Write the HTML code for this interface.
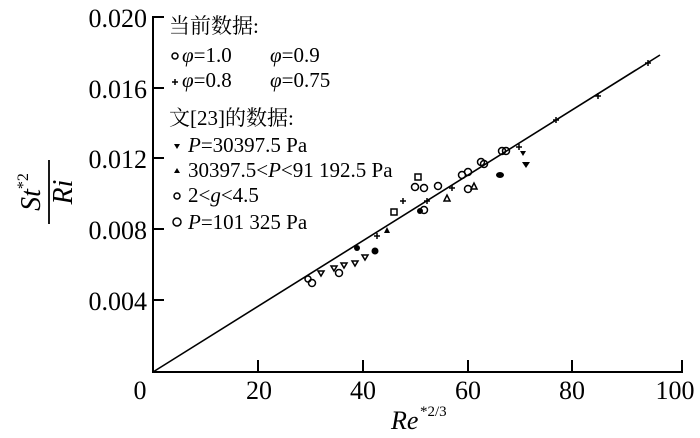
<!DOCTYPE html>
<html><head><meta charset="utf-8"><style>body{margin:0;background:#fff}svg{display:block}</style></head><body>
<svg width="700" height="438" xmlns="http://www.w3.org/2000/svg" font-family="'Liberation Serif','Noto Serif CJK SC',serif" fill="#000">
<g stroke="#000" stroke-width="2" fill="none">
<path d="M164 17H153V372H682V360"/>
<path d="M153 88H164M153 158H164M153 229H164M153 300H164"/>
<path d="M258 372V360M363 372V360M468 372V360M572 372V360"/>
</g>
<line x1="153" y1="372" x2="660" y2="55" stroke="#000" stroke-width="1.6"/>
<g font-size="26" text-anchor="end">
<text x="147" y="27">0.020</text><text x="147" y="98">0.016</text><text x="147" y="168">0.012</text><text x="147" y="239">0.008</text><text x="147" y="310">0.004</text>
</g>
<g font-size="26" text-anchor="middle">
<text x="140" y="399">0</text><text x="259" y="399">20</text><text x="363" y="399">40</text><text x="468" y="399">60</text><text x="572" y="399">80</text><text x="675" y="399">100</text>
</g>
<text x="391" y="429" font-size="26" font-style="italic">Re</text><text x="420" y="416" font-size="15">*2/3</text>
<g transform="translate(48,192) rotate(-90)" font-size="28" font-style="italic" text-anchor="middle">
<text x="0" y="-8">St<tspan font-size="16" font-style="normal" dy="-12">*2</tspan></text>
<line x1="-32" y1="1" x2="32" y2="1" stroke="#000" stroke-width="1.8"/>
<text x="0" y="24">Ri</text>
</g>
<g font-size="21">
<text x="169" y="33">当前数据:</text>
<text x="182" y="62"><tspan font-style="italic">φ</tspan>=1.0</text><text x="270" y="62"><tspan font-style="italic">φ</tspan>=0.9</text>
<text x="182" y="87"><tspan font-style="italic">φ</tspan>=0.8</text><text x="270" y="87"><tspan font-style="italic">φ</tspan>=0.75</text>
<text x="169" y="125">文[23]的数据:</text>
<text x="188" y="152"><tspan font-style="italic">P</tspan>=30397.5 Pa</text>
<text x="188" y="177">30397.5&lt;<tspan font-style="italic">P</tspan>&lt;91 192.5 Pa</text>
<text x="188" y="202">2&lt;<tspan font-style="italic">g</tspan>&lt;4.5</text>
<text x="188" y="229"><tspan font-style="italic">P</tspan>=101 325 Pa</text>
</g>
<g stroke="#000" stroke-width="1.5" fill="none">
<circle cx="175" cy="56" r="3"/><circle cx="177" cy="196" r="3"/><circle cx="177" cy="222" r="4"/>
<circle cx="312" cy="283" r="3.5"/><circle cx="339" cy="273" r="3.5"/><circle cx="415" cy="187" r="3.5"/><circle cx="424" cy="188" r="3.5"/><circle cx="438" cy="186" r="3.5"/><circle cx="424" cy="210" r="3.5"/><circle cx="462" cy="175" r="3.5"/><circle cx="468" cy="172" r="3.5"/><circle cx="468" cy="189" r="3.5"/><circle cx="481" cy="162" r="3.5"/><circle cx="484" cy="164" r="3.5"/><circle cx="502" cy="151" r="3.5"/><circle cx="506" cy="151" r="3.5"/><circle cx="308" cy="279" r="3"/>
<rect x="391" y="209" width="6" height="6"/><rect x="415" y="174" width="6" height="6"/>
<path d="M318 271L324 271L321 276ZM331 266L337 266L334 271ZM341 263L347 263L344 268ZM352 261L358 261L355 266ZM362 255L368 255L365 260Z"/>
<path d="M444 201L450 201L447 195ZM471 189L477 189L474 183Z"/>
</g>
<g>
<path d="M174 144L180 144L177 149Z"/><path d="M174 173L180 173L177 168Z"/>
<circle cx="375" cy="251" r="3.5"/><circle cx="357" cy="248" r="3"/><path d="M384 233L390 233L387 227Z"/><circle cx="420" cy="211" r="3"/><ellipse cx="500" cy="175" rx="4" ry="3"/><path d="M522 162L530 162L526 168Z"/><path d="M520 151L526 151L523 156Z"/>
</g>
<g stroke="#000" stroke-width="1.5">
<path d="M172 82H178M175 79V85M374 236H380M377 233V239M400 201H406M403 198V204M424 201H430M427 198V204M449 188H455M452 185V191M516 147H522M519 144V150M645 63H651M648 60V66M595 96H601M598 93V99M553 120H559M556 117V123"/>
</g>
</svg>
</body></html>
